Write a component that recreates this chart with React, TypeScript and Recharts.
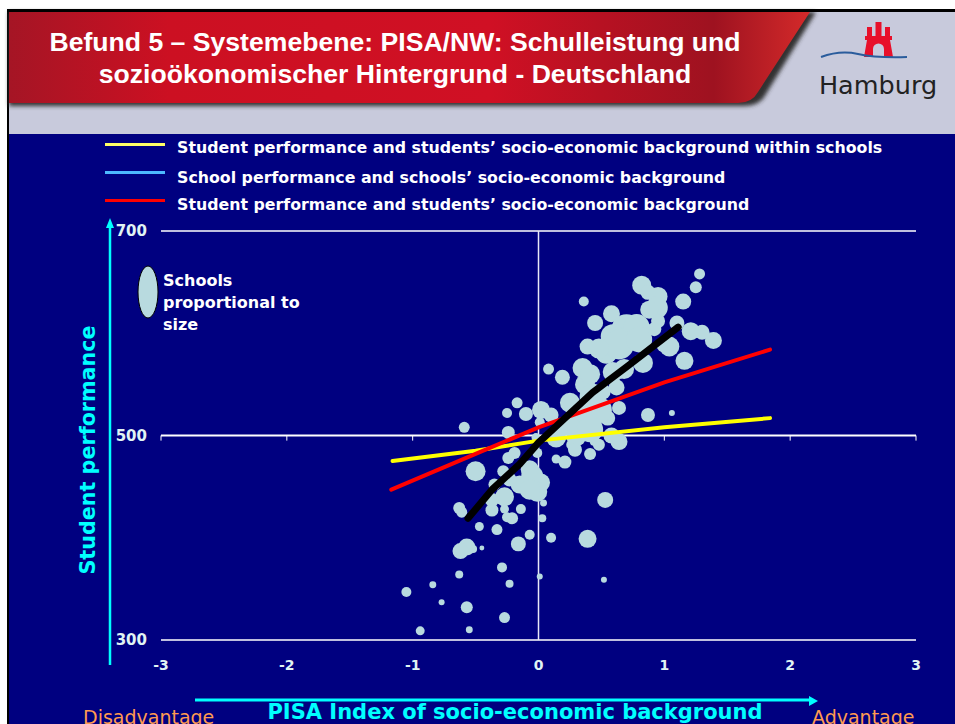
import React from "react";
import { ComposedChart, Scatter, XAxis, YAxis, ReferenceLine } from "recharts";

const xTicks = [-3, -2, -1, 0, 1, 2, 3];
const yTicks = [300, 500, 700];

const title = ["Befund 5 – Systemebene: PISA/NW: Schulleistung und", "sozioökonomischer Hintergrund - Deutschland"];
const legendLabels = [
  "Student performance and students’ socio-economic background within schools",
  "School performance and schools’ socio-economic background",
  "Student performance and students’ socio-economic background",
];
const legendColors = ["#FFFF66", "#4DB8FF", "#FF0000"];

// [index, performance, size]
const schoolRows = [
  [1.28,658,30],[1.25,645,36],[1.15,631,64],[0.82,647,90],[0.95,636,90],[0.87,640,56],[0.94,625,121],[0.36,631,25],
  [0.58,619,72],[0.45,610,64],[0.70,604,225],[0.78,606,169],[0.59,597,144],[0.95,612,49],[1.10,610,56],[1.21,602,81],
  [1.30,601,56],[1.39,593,72],[1.04,587,100],[1.16,573,81],[0.83,571,100],[0.39,587,64],[0.54,581,121],[0.35,566,100],
  [0.59,562,100],[0.64,563,64],[0.19,557,56],[0.08,565,30],[0.37,550,100],[0.62,547,64],[0.43,538,169],[0.25,532,100],
  [0.64,527,49],[0.87,520,49],[1.06,522,9],[-0.17,532,30],[-0.25,522,25],[-0.10,521,49],[0.02,525,81],[0.10,520,56],
  [0.01,513,25],[-0.59,508,30],[-0.24,503,42],[0.35,519,196],[0.41,516,144],[0.25,509,100],[0.55,517,56],[0.30,499,100],
  [0.14,498,100],[0.58,500,64],[0.64,494,72],[0.48,504,12],[0.44,494,16],[-0.02,498,20],[0.26,491,25],
  [-0.50,465,100],[0.41,482,36],[0.14,477,20],[0.21,474,42],[-0.01,483,25],[-0.19,483,36],[-0.24,478,36],[-0.28,465,36],
  [-0.05,460,121],[0.02,454,81],[-0.01,445,100],[-0.15,452,81],[-0.27,440,90],[-0.37,437,49],[-0.37,427,42],[-0.27,428,20],
  [-0.14,428,25],[-0.25,420,25],[-0.21,419,36],[-0.63,429,36],[-0.61,425,30],[0.53,437,64],[0.04,434,12],[0.03,419,16],
  [-0.47,411,20],[-0.33,408,30],[-0.07,403,25],[-0.16,394,56],[0.10,400,25],[0.39,399,81],[-0.57,391,72],[-0.62,387,64],
  [-0.52,389,16],[-0.45,390,6],[-0.29,371,25],[-0.63,364,16],[0.01,362,9],[0.52,359,9],[-0.23,355,16],[-0.84,354,12],
  [-1.05,347,25],[-0.77,337,9],[-0.57,332,36],[-0.27,322,30],[-0.94,309,20],[-0.55,310,12],
  [0.64,589,225],[0.80,594,169],[0.48,585,100],[0.68,565,100],[0.92,604,49],[0.88,623,81],[1.00,589,64],[0.41,560,100],
  [0.48,525,169],[0.41,506,169],[0.17,506,64],[0.29,486,49],[0.48,491,36],[-0.07,467,81],[-0.07,447,100],[-0.23,457,49],
  [-0.35,452,36],[0.51,543,64],
];
const schools = schoolRows.map(([x, y, z]) => ({ x, y, z }));

const yellowLine = [{ x: -1.16, y: 475 }, { x: -0.5, y: 485 }, { x: 0, y: 495 }, { x: 1, y: 508 }, { x: 1.84, y: 517 }];
const redLine = [{ x: -1.17, y: 447 }, { x: -0.5, y: 482 }, { x: 0, y: 508 }, { x: 1, y: 552 }, { x: 1.84, y: 584 }];
const blackLine = [{ x: -0.56, y: 419 }, { x: -0.37, y: 447 }, { x: -0.15, y: 472 }, { x: 0, y: 493 }, { x: 0.43, y: 542 }, { x: 0.72, y: 569 }, { x: 1.11, y: 606 }];

const NAVY = "#000080";
const CYAN = "#00FFFF";
const FONT = "'DejaVu Sans', sans-serif";
const ARIAL = "'Liberation Sans', Arial, sans-serif";

const SchoolDot = (p: any) => <circle cx={p.cx} cy={p.cy} r={Math.sqrt(p.payload.z)} fill="#B8DADF" />;
const NoDot = () => <g />;

const Header = () => (
  <svg width={955} height={134} style={{ position: "absolute", left: 0, top: 0 }}>
    <defs>
      <linearGradient id="red" x1="0" x2="1" y1="0" y2="0">
        <stop offset="0" stopColor="#A51525" />
        <stop offset="0.2" stopColor="#CC1022" />
        <stop offset="0.6" stopColor="#D01024" />
        <stop offset="0.88" stopColor="#9E1220" />
        <stop offset="1" stopColor="#D42A2A" />
      </linearGradient>
      <filter id="soft" x="-5%" y="-20%" width="110%" height="140%"><feGaussianBlur stdDeviation="2" /></filter>
    </defs>
    <rect x={0} y={0} width={955} height={134} fill="#fff" />
    <rect x={7} y={9} width={948} height={125} fill="#000" />
    <rect x={9} y={12} width={946} height={122} fill="#C8CADC" />
    <path d="M9 12 L816 12 L766 94 Q760 106 744 106 L9 106 Z" fill="#333" filter="url(#soft)" />
    <rect x={7} y={9} width={948} height={3} fill="#000" />
    <path d="M9 12 L810 12 L758 92 Q752 103 738 103 L9 103 Z" fill="url(#red)" />
    <text x={395} y={51} textAnchor="middle" fill="#fff" fontFamily={ARIAL} fontWeight="700" fontSize={26.6}>{title[0]}</text>
    <text x={395} y={83} textAnchor="middle" fill="#fff" fontFamily={ARIAL} fontWeight="700" fontSize={26.6}>{title[1]}</text>
    <g fill="#E8102A">
      <rect x={865} y={36} width={27} height={4} />
      <path d="M867 40 h23 l3 17 h-9 v-8 a5.5 5.5 0 0 0 -11 0 v8 h-9 Z" />
      <rect x={867} y={27} width={5} height={9} />
      <rect x={875.5} y={22} width={6} height={14} />
      <rect x={885} y={27} width={5} height={9} />
    </g>
    <path d="M821 57 Q840 50 858 54 T907 57" fill="none" stroke="#2A5C9C" strokeWidth={2} />
    <text x={878} y={94} textAnchor="middle" fill="#222" fontFamily={FONT} fontSize={25.5}>Hamburg</text>
  </svg>
);

export default function App() {
  return (
    <div style={{ position: "fixed", left: 0, top: 0, width: 955, height: 724, overflow: "hidden", background: "#fff" }}>
      <Header />
      <div style={{ position: "absolute", left: 9, top: 134, width: 946, height: 590, background: NAVY }} />
      <div style={{ position: "absolute", left: 7, top: 134, width: 2, height: 590, background: "#000" }} />
      {legendLabels.map((t, i) => (
        <React.Fragment key={t}>
          <div style={{ position: "absolute", left: 105, width: 60, top: [143, 171, 199][i], height: 3, background: legendColors[i] }} />
          <div style={{ position: "absolute", left: 177, top: [138, 168, 195][i], color: "#fff", fontFamily: FONT, fontWeight: 700, fontSize: 15.8, whiteSpace: "nowrap" }}>{t}</div>
        </React.Fragment>
      ))}
      <ComposedChart
        width={955}
        height={724}
        data={schools}
        margin={{ top: 231, right: 39, bottom: 0, left: 101 }}
        style={{ position: "absolute", left: 0, top: 0 }}
      >
        <XAxis type="number" dataKey="x" domain={[-3, 3]} ticks={xTicks} axisLine={false} tickLine={false} tickMargin={14}
          height={84} interval={0} allowDuplicatedCategory={false}
          tick={{ fill: "#E0F4F4", fontFamily: FONT, fontWeight: 700, fontSize: 14 }} />
        <YAxis type="number" dataKey="y" domain={[300, 700]} ticks={yTicks} width={60} axisLine={false} tickLine={false} tickMargin={8}
          tick={{ fill: "#E0F4F4", fontFamily: FONT, fontWeight: 700, fontSize: 15 }} />
        {yTicks.map((v) => <ReferenceLine key={v} y={v} stroke="#fff" strokeWidth={v === 500 ? 2 : 1.5} />)}
        <ReferenceLine x={0} stroke="#E8E8F8" strokeWidth={1.5} />
        {xTicks.map((v) => (
          <ReferenceLine key={v} segment={[{ x: v, y: 500 }, { x: v, y: 495 }]} stroke="#fff" strokeWidth={1} />
        ))}
        <Scatter data={schools} dataKey="y" shape={SchoolDot} isAnimationActive={false} />
        <Scatter data={yellowLine} dataKey="y" shape={NoDot} line={{ stroke: "#FFFF00", strokeWidth: 4, strokeLinecap: "round" }} isAnimationActive={false} />
        <Scatter data={redLine} dataKey="y" shape={NoDot} line={{ stroke: "#FF0000", strokeWidth: 4, strokeLinecap: "round" }} isAnimationActive={false} />
        <Scatter data={blackLine} dataKey="y" shape={NoDot} line={{ stroke: "#000", strokeWidth: 7, strokeLinecap: "round", strokeLinejoin: "round" }} isAnimationActive={false} />
      </ComposedChart>
      <svg width={955} height={724} style={{ position: "absolute", left: 0, top: 0, pointerEvents: "none" }}>
        <ellipse cx={148} cy={292} rx={10} ry={26} fill="#B8DADF" stroke="#000" strokeWidth={1} />
        <path d="M110 665 V228" stroke={CYAN} strokeWidth={2.5} />
        <path d="M110 218 L106 228 L114 228 Z" fill={CYAN} />
        <path d="M195 700 H812" stroke={CYAN} strokeWidth={3} />
        <path d="M818 701 L809 696 L809 706 Z" fill={CYAN} />
        <text transform="translate(95 450) rotate(-90)" textAnchor="middle" fill={CYAN} fontFamily={FONT} fontWeight="700" fontSize={20.7}>Student performance</text>
        <text x={515} y={719} textAnchor="middle" fill={CYAN} fontFamily={FONT} fontWeight="700" fontSize={21}>PISA Index of socio-economic background</text>
        <text x={83} y={724} fill="#FF9A50" fontFamily={FONT} fontSize={19}>Disadvantage</text>
        <text x={812} y={724} fill="#FF9A50" fontFamily={FONT} fontSize={19}>Advantage</text>
      </svg>
      <div style={{ position: "absolute", left: 163, top: 270, color: "#fff", fontFamily: FONT, fontWeight: 700, fontSize: 16, lineHeight: "22px" }}>
        Schools<br />proportional to<br />size
      </div>
    </div>
  );
}
